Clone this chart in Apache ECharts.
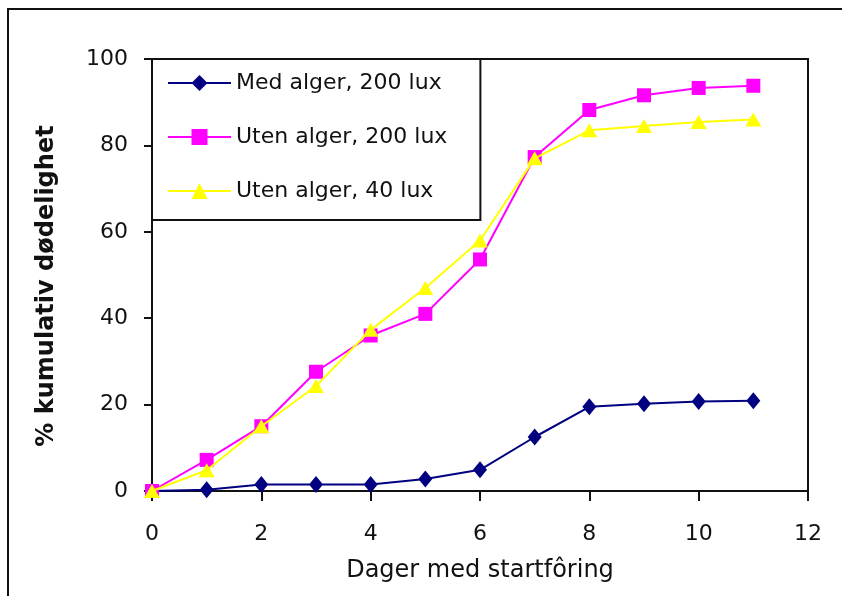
<!DOCTYPE html>
<html>
<head>
<meta charset="utf-8">
<script src="https://cdn.jsdelivr.net/npm/echarts@6/dist/echarts.min.js"></script>
<style>html,body{margin:0;padding:0;background:#fff;}#c{width:842px;height:596px;}</style>
</head>
<body>
<div id="c"></div>
<script>
const days = [0, 1, 2, 3, 4, 5, 6, 7, 8, 9, 10, 11];
const medAlger200 = [0, 0.3, 1.5, 1.5, 1.5, 2.8, 4.9, 12.5, 19.5, 20.2, 20.7, 20.9];
const utenAlger200 = [0, 7.2, 15, 27.6, 36, 41, 53.6, 77.3, 88.2, 91.6, 93.3, 93.8];
const utenAlger40 = [0, 4.8, 15, 24.3, 37.3, 47, 58, 77, 83.5, 84.5, 85.4, 86];
const seriesNames = ['Med alger, 200 lux', 'Uten alger, 200 lux', 'Uten alger, 40 lux'];
const xTitle = 'Dager med startfôring';
const yTitle = '% kumulativ dødelighet';

const FONT = 'DejaVu Sans';
const chart = echarts.init(document.getElementById('c'), null, {renderer: 'canvas'});
const pairs = arr => days.map((d, i) => [d, arr[i]]);

chart.setOption({
  animation: false,
  backgroundColor: '#fff',
  grid: {left: 152, right: 34, top: 59, bottom: 105, show: true, borderColor: '#111', borderWidth: 2, backgroundColor: 'transparent'},
  legend: {
    orient: 'vertical', left: 152, top: 59,
    padding: [13, 33, 18, 15], itemGap: 32,
    itemWidth: 63, itemHeight: 20,
    backgroundColor: '#fff', borderColor: '#111', borderWidth: 2,
    textStyle: {fontFamily: FONT, fontSize: 22, color: '#111'},
    data: seriesNames
  },
  xAxis: {
    type: 'value', min: 0, max: 12, interval: 2,
    name: xTitle, nameLocation: 'middle', nameGap: 68,
    nameTextStyle: {fontFamily: FONT, fontSize: 24, color: '#111'},
    axisLine: {show: true, onZero: false, lineStyle: {color: '#111', width: 2}},
    axisTick: {show: true, inside: false, length: 10, lineStyle: {color: '#111', width: 2}},
    axisLabel: {fontFamily: FONT, fontSize: 22, color: '#111', margin: 32},
    splitLine: {show: false}
  },
  yAxis: {
    type: 'value', min: 0, max: 100, interval: 20,
    axisLine: {show: true, onZero: false, lineStyle: {color: '#111', width: 2}},
    axisTick: {show: true, inside: false, length: 8, lineStyle: {color: '#111', width: 2}},
    axisLabel: {fontFamily: FONT, fontSize: 22, color: '#111', margin: 24},
    splitLine: {show: false}
  },
  graphic: [
    {type: 'polyline', z: 100, shape: {points: [[8, 596], [8, 9], [842, 9]]}, style: {stroke: '#111', lineWidth: 2, fill: null}},
    {type: 'text', z: 100, x: 47, y: 286, rotation: Math.PI / 2,
     style: {text: yTitle, fontFamily: FONT, fontSize: 24, fontWeight: 'bold', fill: '#111', align: 'center', verticalAlign: 'middle'}}
  ],
  series: [
    {name: seriesNames[0], type: 'line', data: pairs(medAlger200),
     symbol: 'diamond', symbolSize: [14, 17], color: '#000080',
     lineStyle: {color: '#000080', width: 2}, itemStyle: {color: '#000080'}, z: 2},
    {name: seriesNames[1], type: 'line', data: pairs(utenAlger200),
     symbol: 'rect', symbolSize: 14, color: '#ff00ff',
     lineStyle: {color: '#ff00ff', width: 2}, itemStyle: {color: '#ff00ff'}, z: 3},
    {name: seriesNames[2], type: 'line', data: pairs(utenAlger40),
     symbol: 'triangle', symbolSize: [16, 14], color: '#ffff00',
     lineStyle: {color: '#ffff00', width: 2}, itemStyle: {color: '#ffff00'}, z: 4}
  ]
});
</script>
</body>
</html>
